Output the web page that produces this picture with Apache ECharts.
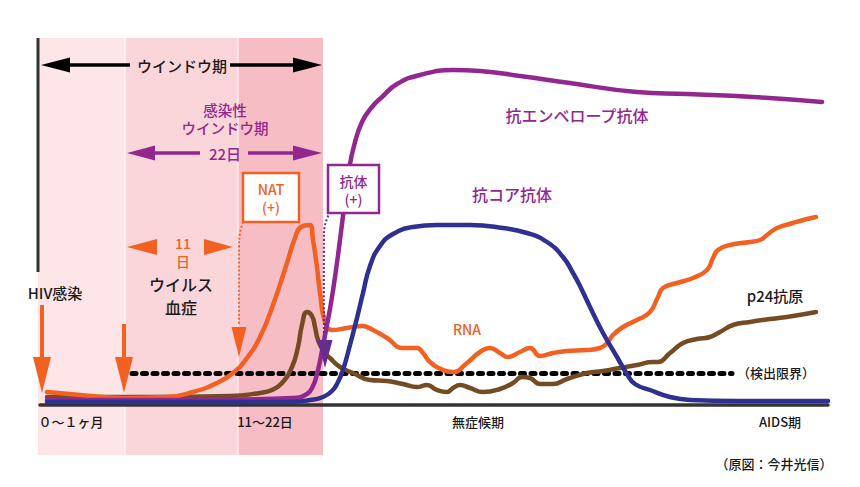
<!DOCTYPE html>
<html>
<head>
<meta charset="utf-8">
<script src="https://cdn.jsdelivr.net/npm/echarts@6/dist/echarts.min.js"></script>
<style>html,body{margin:0;padding:0;background:#fff}#c{width:860px;height:487px}</style>
</head>
<body>
<div id="c"></div>
<script>
// ---------- DATA (x: time in arbitrary units, y: level in arbitrary units, 0 = baseline) ----------
const rnaX = [7,40,83,127,153,177,193,207,220,233,247,255,261,270,273,277,280,285,292,307,322,333,347,363,377,383,390,403,413,427,440,450,460,468,480,490,500,513,527,547,560,567,573,583,597,610,618,623,637,653,667,673,678,690,710,720,727,737,753,767,776];
const rnaY = [13,10,7,8,13,22,32,47,68,100,142,167,178,180,165,138,112,83,75,77,79,75,67,57,57,52,43,35,33,42,53,57,52,48,53,57,49,52,54,55,57,62,70,78,85,93,108,117,122,127,135,147,155,160,163,165,170,177,182,186,188];

const p24X = [7,110,190,220,232,242,252,258,262,267,272,275,278,284,290,300,313,330,347,363,377,387,397,407,413,420,430,443,460,473,482,490,500,513,527,547,563,580,597,613,618,630,643,657,670,680,693,710,730,753,776];
const p24Y = [8,8,9,12,15,22,38,58,80,93,89,78,65,53,47,38,32,25,24,21,18,20,15,13,17,20,17,13,16,22,28,27,21,21,26,32,34,37,40,43,43,52,62,66,68,73,80,83,86,89,93];

const coreX = [7,160,250,270,283,292,298,303,310,317,323,330,340,353,373,397,430,463,487,507,523,533,540,550,563,577,587,595,610,630,650,697,788];
const coreY = [3,3,3,5,8,14,23,35,60,87,112,139,159,171,178,180,180,177,172,163,148,132,119,98,72,48,31,21,15,8,5,4,4];

const envX = [7,160,253,267,273,277,281,286,291,296,301,305,309,314,322,332,342,357,380,413,440,480,530,597,647,713,782];
const envY = [5,5,7,11,19,31,49,75,102,135,173,205,235,259,283,298,308,321,330,335,334,329,322,313,311,308,303];

const detectionLevel = 31.5;
const detectionRange = [92, 692];

const tickValues = [31, 225, 438, 740];
const tickLabels = ['０～１ヶ月', '11～22日', '無症候期', 'AIDS期'];

const phaseEdges = [-2, 85, 198, 283];

// ---------- STYLE ----------
const FONT = '"Noto Sans CJK JP", "Noto Sans", sans-serif';
const COL = {orange:'#F26122', purple:'#92278F', dpurple:'#662D91', blue:'#2E3192', brown:'#744B22', text:'#1a1a1a', axis:'#333'};
const phaseColors = ['#FDE5E8', '#FAD5DA', '#F6BDC4'];

const zip = (xs, ys) => xs.map((x, i) => [x, ys[i]]);

function renderBands(params, api) {
  const kids = [];
  const top = 367, bottom = -50;
  for (let i = 0; i < phaseColors.length; i++) {
    const a = api.coord([phaseEdges[i], top]), b = api.coord([phaseEdges[i + 1], bottom]);
    kids.push({type:'rect', shape:{x:a[0], y:a[1], width:b[0]-a[0], height:b[1]-a[1]}, style:{fill:phaseColors[i]}});
  }
  for (let i = 1; i < phaseColors.length; i++) {
    const a = api.coord([phaseEdges[i], top]), b = api.coord([phaseEdges[i], bottom]);
    kids.push({type:'line', shape:{x1:a[0], y1:a[1], x2:b[0], y2:b[1]}, style:{stroke:'#ffffff', lineWidth:1}});
  }
  const v1 = api.coord([-2, 367]), v2 = api.coord([-2, 133]);
  kids.push({type:'line', shape:{x1:v1[0], y1:v1[1], x2:v2[0], y2:v2[1]}, style:{stroke:COL.axis, lineWidth:3}});
  return {type:'group', children:kids};
}

function renderNotes(params, api) {
  const kids = [];
  const c = (x, y) => api.coord([x, y]);
  function text(str, x, y, color, size, lh) {
    const p = c(x, y);
    kids.push({type:'text', z2:10, style:{text:str, x:p[0], y:p[1], fill:color, fontSize:size, fontWeight:500,
      fontFamily:FONT, align:'center', verticalAlign:'middle', lineHeight:lh || Math.round(size * 1.2)}});
  }
  function seg(x1, y1, x2, y2, color, w) {
    const a = c(x1, y1), b = c(x2, y2);
    kids.push({type:'line', shape:{x1:a[0], y1:a[1], x2:b[0], y2:b[1]}, style:{stroke:color, lineWidth:w}});
  }
  function dotted(pts, color) {
    kids.push({type:'polyline', shape:{points:pts.map(p => c(p[0], p[1])), smooth:0.4}, style:{stroke:color, lineWidth:2, fill:null, lineDash:[2,2]}});
  }
  function tri(tx, ty, bx, by, half, color) {
    const t = c(tx, ty), b = c(bx, by);
    const dx = t[0]-b[0], dy = t[1]-b[1], L = Math.hypot(dx, dy);
    const nx = -dy/L, ny = dx/L;
    kids.push({type:'polygon', shape:{points:[t, [b[0]+nx*half, b[1]+ny*half], [b[0]-nx*half, b[1]-ny*half]]}, style:{fill:color}});
  }
  function box(x1, y1, x2, y2, color) {
    const a = c(x1, y1), b = c(x2, y2);
    kids.push({type:'rect', shape:{x:a[0], y:a[1], width:b[0]-a[0], height:b[1]-a[1]}, style:{fill:'#ffffff', stroke:color, lineWidth:2.5}});
  }
  // window period arrow
  tri(1, 340, 30, 340, 7.5, '#000'); seg(30, 340, 90, 340, '#000', 3.5);
  text('ウインドウ期', 142, 340, COL.text, 15);
  seg(190, 340, 253, 340, '#000', 3.5); tri(282, 340, 253, 340, 7.5, '#000');
  // infectious window period
  text('感染性\nウインドウ期', 185, 286.5, COL.purple, 14.5, 18.4);
  tri(87, 252, 115, 252, 7.5, COL.purple); seg(115, 252, 160, 252, COL.purple, 3.5);
  text('22日', 185, 252, COL.purple, 15);
  seg(208, 252, 253, 252, COL.purple, 3.5); tri(282, 252, 253, 252, 7.5, COL.purple);
  // 11 days
  tri(87, 158, 117, 158, 8, COL.orange); tri(193, 158, 164, 158, 8, COL.orange);
  text('11\n日', 143, 153.5, COL.orange, 14, 18);
  // viremia / infection
  text('HIV感染', 15, 113, COL.text, 15);
  text('ウイルス\n血症', 141, 110, COL.text, 16, 23);
  seg(2, 100, 2, 46, COL.orange, 4); tri(2, 12, 2, 48, 9, COL.orange);
  seg(84, 81, 84, 46, COL.orange, 4); tri(84, 12, 84, 48, 9, COL.orange);
  // NAT (+)
  dotted([[203,183],[200,172],[199,158],[199,80]], COL.orange);
  tri(199, 48, 199, 78, 7.5, COL.orange);
  box(203, 232, 259, 183, COL.orange);
  text('NAT\n(+)', 231, 207, COL.orange, 14, 18);
  // Antibody (+)
  dotted([[290,193],[285,180],[284,165],[284,67]], COL.dpurple);
  tri(285, 37, 285, 65, 7.5, COL.dpurple);
  box(288, 240, 339, 192, COL.purple);
  text('抗体\n(+)', 313.5, 215.5, COL.purple, 14, 18);
  // curve labels
  text('抗エンベロープ抗体', 537, 290, COL.purple, 16);
  text('抗コア抗体', 472, 211, COL.purple, 16);
  text('RNA', 427, 76, COL.orange, 14);
  text('p24抗原', 735, 110, COL.text, 15);
  text('（検出限界）', 736, 32.5, COL.text, 13);
  text('（原図：今井光信）', 734, -58, COL.text, 13);
  return {type:'group', children:kids};
}

const lineSeries = (name, data, color, z) => ({
  name, type:'line', data, showSymbol:false, smooth:0.5, z,
  lineStyle:{color, width:4.5, cap:'round', join:'round'}, silent:true, emphasis:{disabled:true}
});

const chart = echarts.init(document.getElementById('c'), null, {renderer:'svg'});
chart.setOption({
  animation:false,
  grid:{left:40, right:32, top:38, bottom:82, containLabel:false, outerBoundsMode:'none'},
  xAxis:{type:'value', min:0, max:788, z:3,
    axisLine:{show:true, onZero:false, lineStyle:{color:COL.axis, width:3.5}},
    axisTick:{show:false}, splitLine:{show:false},
    axisLabel:{customValues:tickValues, formatter:v => tickLabels[tickValues.indexOf(v)] || '',
      color:COL.text, fontSize:13, fontWeight:500, fontFamily:FONT, margin:10, hideOverlap:false}},
  yAxis:{type:'value', min:0, max:367, show:false},
  series:[
    {type:'custom', renderItem:renderBands, data:[[0,0]], clip:false, silent:true, z:0},
    {type:'line', data:[[detectionRange[0], detectionLevel],[detectionRange[1], detectionLevel]], showSymbol:false, z:4, silent:true,
      lineStyle:{color:'#000', width:5, type:[4,6.5], cap:'round'}},
    lineSeries('p24抗原', zip(p24X, p24Y), COL.brown, 5),
    lineSeries('RNA', zip(rnaX, rnaY), COL.orange, 6),
    lineSeries('抗エンベロープ抗体', zip(envX, envY), COL.purple, 7),
    lineSeries('抗コア抗体', zip(coreX, coreY), COL.blue, 8),
    {type:'custom', renderItem:renderNotes, data:[[0,0]], clip:false, silent:true, z:10}
  ]
});
</script>
</body>
</html>
